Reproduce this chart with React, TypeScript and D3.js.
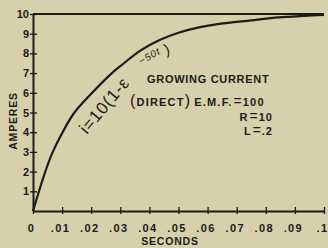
import React, { useEffect, useRef } from 'react';
import * as d3 from 'd3';

// time in seconds and current in amperes
const seconds = [0, 0.004, 0.0065, 0.01, 0.014, 0.02, 0.0275, 0.03, 0.037, 0.0435, 0.05, 0.057, 0.064, 0.075, 0.081, 0.093, 0.1];
const amperes = [0, 1.9, 2.9, 3.95, 4.95, 5.95, 7.05, 7.35, 8.15, 8.68, 9.05, 9.32, 9.5, 9.68, 9.78, 9.9, 9.95];

const xTicks = [0, 0.01, 0.02, 0.03, 0.04, 0.05, 0.06, 0.07, 0.08, 0.09, 0.1];
const xTickLabels = ['0', '.01', '.02', '.03', '.04', '.05', '.06', '.07', '.08', '.09', '.1'];
const yTicks = [1, 2, 3, 4, 5, 6, 7, 8, 9, 10];

const ink = '#1c1b18';
const paper = '#d6d0ad';

type TextSel = d3.Selection<SVGTextElement, unknown, null, undefined>;

const App: React.FC = () => {
  const svgRef = useRef<SVGSVGElement | null>(null);

  useEffect(() => {
    if (!svgRef.current) return;
    const svg = d3.select(svgRef.current);
    svg.selectAll('*').remove();

    const width = 328;
    const height = 248;
    const x = d3.scaleLinear().domain([0, 0.1]).range([33, 324]);
    const y = d3.scaleLinear().domain([0, 10]).range([211, 14]);

    svg.append('rect').attr('width', width).attr('height', height).attr('fill', paper);

    const font = "'Liberation Sans', Arial, sans-serif";

    // x axis
    const xAxis = svg.append('g')
      .attr('transform', `translate(0,${y(0)})`)
      .call(d3.axisBottom(x).tickValues(xTicks).tickSize(3).tickSizeOuter(0)
        .tickFormat((_, i) => xTickLabels[i]));
    xAxis.select('.domain').attr('stroke', ink).attr('stroke-width', 2);
    xAxis.selectAll('.tick line').attr('stroke', ink).attr('stroke-width', 1.3).attr('y1', -4);
    xAxis.selectAll('.tick text')
      .attr('fill', ink).attr('font-family', font).attr('font-size', 11)
      .attr('font-weight', 'bold').attr('letter-spacing', 1.4)
      .attr('y', 13).attr('dx', -2);

    // y axis
    const yAxis = svg.append('g')
      .attr('transform', `translate(${x(0)},0)`)
      .call(d3.axisLeft(y).tickValues(yTicks).tickSize(3).tickSizeOuter(0));
    yAxis.select('.domain').attr('stroke', ink).attr('stroke-width', 2);
    yAxis.selectAll('.tick line').attr('stroke', ink).attr('stroke-width', 1.3).attr('x1', 4);
    yAxis.selectAll('.tick text')
      .attr('fill', ink).attr('font-family', font).attr('font-size', 11)
      .attr('font-weight', 'bold').attr('x', -4);

    // top border at 10 amperes
    svg.append('line')
      .attr('x1', x(0)).attr('x2', x(0.1))
      .attr('y1', y(10)).attr('y2', y(10))
      .attr('stroke', ink).attr('stroke-width', 2);

    // growing current curve
    const line = d3.line<number>()
      .x((_, i) => x(seconds[i]))
      .y(d => y(d))
      .curve(d3.curveCatmullRom.alpha(0.5));
    svg.append('path')
      .datum(amperes)
      .attr('d', line)
      .attr('fill', 'none')
      .attr('stroke', ink)
      .attr('stroke-width', 2.2);

    // equation written along the curve
    svg.append('text')
      .attr('transform', 'translate(87,135) rotate(-50)')
      .attr('font-family', font).attr('font-size', 17).attr('letter-spacing', 0.8).attr('fill', ink)
      .text('i=10(1-ε');
    svg.append('text')
      .attr('transform', 'translate(141,65) rotate(-30)')
      .attr('font-family', font).attr('font-size', 10).attr('font-style', 'italic')
      .attr('letter-spacing', 1).attr('fill', ink)
      .text('−50t');
    svg.append('text')
      .attr('transform', 'translate(166,55) rotate(-18)')
      .attr('font-family', font).attr('font-size', 15).attr('fill', ink)
      .text(')');

    // notes
    const noteStyle = (t: TextSel, spacing: number) =>
      t.attr('font-family', font).attr('font-size', 11).attr('font-weight', 'bold')
        .attr('letter-spacing', spacing).attr('fill', ink);
    const wideEquals = (t: TextSel) =>
      t.append('tspan').attr('font-size', 14).attr('font-weight', 'normal')
        .attr('letter-spacing', 1).attr('dx', 1).text('=');

    noteStyle(svg.append('text').attr('x', 147).attr('y', 83), 0.7).text('GROWING CURRENT');

    const direct = noteStyle(svg.append('text').attr('x', 130).attr('y', 106), 1.2);
    direct.append('tspan').attr('font-size', 16).attr('font-weight', 'normal').text('(');
    direct.append('tspan').text('DIRECT');
    direct.append('tspan').attr('font-size', 16).attr('font-weight', 'normal').text(')');
    direct.append('tspan').attr('dx', 3).text('E.M.F.');
    wideEquals(direct);
    direct.append('tspan').text('100');

    const r = noteStyle(svg.append('text').attr('x', 273).attr('y', 121).attr('text-anchor', 'end'), 1);
    r.append('tspan').text('R');
    wideEquals(r);
    r.append('tspan').text('10');

    const l = noteStyle(svg.append('text').attr('x', 273).attr('y', 135).attr('text-anchor', 'end'), 1);
    l.append('tspan').text('L');
    wideEquals(l);
    l.append('tspan').text('.2');

    // axis titles
    svg.append('text')
      .attr('transform', `translate(17,121) rotate(-90)`)
      .attr('text-anchor', 'middle')
      .attr('font-family', font).attr('font-size', 10.5).attr('font-weight', 'bold')
      .attr('letter-spacing', 0.8).attr('fill', ink)
      .text('AMPERES');
    svg.append('text')
      .attr('x', 170).attr('y', 245)
      .attr('text-anchor', 'middle')
      .attr('font-family', font).attr('font-size', 10.5).attr('font-weight', 'bold')
      .attr('letter-spacing', 0.8).attr('fill', ink)
      .text('SECONDS');
  }, []);

  return (
    <svg
      ref={svgRef}
      width={328}
      height={248}
      style={{ position: 'absolute', left: 0, top: 0, display: 'block' }}
    />
  );
};

export default App;
